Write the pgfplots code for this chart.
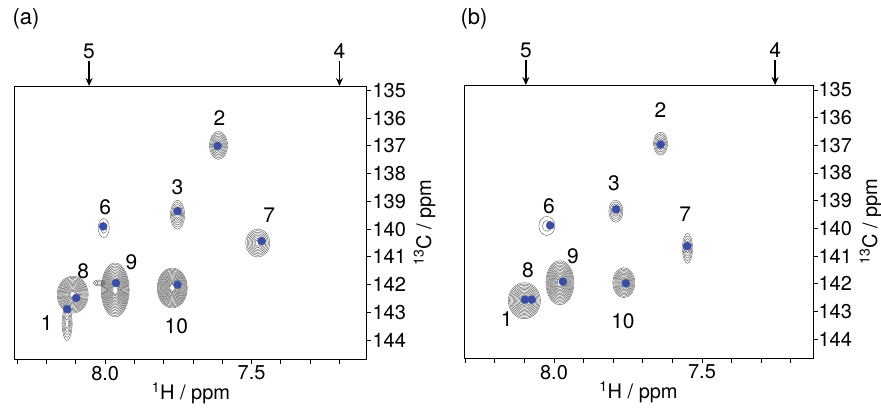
\documentclass[border=0pt]{standalone}
\usepackage{fontspec}
\setmainfont{TeX Gyre Heros}
\usepackage{pgfplots}
\pgfplotsset{compat=1.18}
\usepackage{pgfplotstable}
\usetikzlibrary{arrows.meta}
\definecolor{peakblue}{RGB}{58,78,165}
\definecolor{contourgray}{RGB}{70,70,70}

% contour envelopes: centre (x,y), semi-axes a,b (bp), number of levels n
\pgfplotstableread{
x y a b n
7.613 136.98 9 14 8
7.753 139.48 7 14.5 6
8.005 139.96 5.5 9.5 2
7.479 140.50 12 14 8
7.966 142.19 14 27 16
8.020 141.94 6 3 3
7.771 142.12 15 20 16
8.111 142.36 15.5 18.5 14
8.130 143.40 5 17 5
}\contA
\pgfplotstableread{
x y
7.616 137.00
7.753 139.35
8.007 139.90
7.466 140.43
7.963 141.94
7.753 142.00
8.099 142.48
8.130 142.88
}\dotsA
\pgfplotstableread{
x y a b n
7.640 136.94 7 11.5 6
7.791 139.38 7 11 5
8.024 139.91 8 9.5 2
7.549 140.72 5 15 5
7.980 141.96 14 22 14
7.764 141.96 11 15 10
8.100 142.61 16 18 12
}\contB
\pgfplotstableread{
x y
7.640 136.97
7.790 139.31
8.013 139.89
7.550 140.64
7.970 141.92
7.757 141.98
8.098 142.57
8.075 142.57
}\dotsB

\newcommand{\labfont}{\fontsize{20bp}{23bp}\selectfont}
\newcommand{\pkfont}{\fontsize{21bp}{24bp}\selectfont}

\tikzset{pkarrow/.style={{Stealth[length=8bp,width=7bp]}-, line width=1.4bp}}

\pgfplotsset{
  nmr/.style={
    scale only axis, clip=false,
    x dir=reverse, y dir=reverse,
    axis line style={line width=1bp},
    xtick pos=left, ytick pos=right, yticklabel pos=right,
    tick align=outside,
    major tick length=4.5bp, minor tick length=4.5bp,
    every tick/.style={black, line width=0.9bp},
    xtick={7.5,8.0}, xticklabels={7.5,8.0},
    minor xtick={7.2,7.3,7.4,7.6,7.7,7.8,7.9,8.1,8.2,8.3},
    ytick={135,136,137,138,139,140,141,142,143,144},
    /pgf/number format/assume math mode=true,
    tick label style={font=\labfont},
    yticklabel style={xshift=-2.5bp},
    xticklabel style={yshift=1bp},
    label style={font=\labfont},
    xlabel={\textsuperscript{1}H / ppm},
    ylabel={\textsuperscript{13}C / ppm},
    xlabel style={yshift=5bp},
    ylabel style={yshift=-1bp},
  },
  contlevel/.style={
    scatter, only marks, mark=o, mark size=1bp,
    mark options={draw=contourgray, line width=0.35bp},
    visualization depends on={(0.12+0.88*min(#1,\thisrow{n})/\thisrow{n})*\thisrow{a} \as \ea},
    visualization depends on={(0.12+0.88*min(#1,\thisrow{n})/\thisrow{n})*\thisrow{b} \as \eb},
    visualization depends on={(#1 < \thisrow{n}+0.5) \as \op},
    scatter/@pre marker code/.code={\scope[xscale=\ea, yscale=\eb, draw opacity=\op]},
    scatter/@post marker code/.code={\endscope},
  },
  dots/.style={only marks, mark=*, mark size=4bp, peakblue, mark options={draw=peakblue, fill=peakblue}},
}

\begin{document}
\begin{tikzpicture}
\useasboundingbox (0,0) rectangle (881bp,414bp);
\node[font=\fontsize{22bp}{25bp}\selectfont] at (26bp,395bp) {(a)};
\node[font=\fontsize{22bp}{25bp}\selectfont] at (474bp,395bp) {(b)};

\begin{axis}[nmr, at={(15bp,55bp)}, anchor=south west,
  width=352bp, height=273bp,
  xmin=7.106, xmax=8.308, ymin=134.84, ymax=144.68]
  \pgfplotsinvokeforeach{1,...,16}{\addplot[contlevel=#1] table {\contA};}
  \addplot[dots] table {\dotsA};
  \draw[pkarrow] (axis cs:8.055,134.84) -- (axis cs:8.055,133.95) node[above, font=\pkfont, inner sep=2bp] {5};
  \draw[pkarrow] (axis cs:7.200,134.84) -- (axis cs:7.200,133.95) node[above, font=\pkfont, inner sep=2bp] {4};
  \node[font=\pkfont] at (axis cs:7.610,136.00) {2};
  \node[font=\pkfont] at (axis cs:7.753,138.50) {3};
  \node[font=\pkfont] at (axis cs:8.000,139.20) {6};
  \node[font=\pkfont] at (axis cs:7.440,139.50) {7};
  \node[font=\pkfont] at (axis cs:7.910,141.20) {9};
  \node[font=\pkfont] at (axis cs:8.075,141.50) {8};
  \node[font=\pkfont] at (axis cs:8.200,143.40) {1};
  \node[font=\pkfont] at (axis cs:7.757,143.50) {10};
\end{axis}

\begin{axis}[nmr, at={(464bp,56bp)}, anchor=south west,
  width=349bp, height=273bp,
  xmin=7.125, xmax=8.304, ymin=134.82, ymax=144.68]
  \pgfplotsinvokeforeach{1,...,16}{\addplot[contlevel=#1] table {\contB};}
  \addplot[dots] table {\dotsB};
  \draw[pkarrow] (axis cs:8.095,134.82) -- (axis cs:8.095,133.93) node[above, font=\pkfont, inner sep=2bp] {5};
  \draw[pkarrow] (axis cs:7.253,134.82) -- (axis cs:7.253,133.93) node[above, font=\pkfont, inner sep=2bp] {4};
  \node[font=\pkfont] at (axis cs:7.640,135.72) {2};
  \node[font=\pkfont] at (axis cs:7.797,138.36) {3};
  \node[font=\pkfont] at (axis cs:8.017,139.20) {6};
  \node[font=\pkfont] at (axis cs:7.557,139.50) {7};
  \node[font=\pkfont] at (axis cs:7.936,141.00) {9};
  \node[font=\pkfont] at (axis cs:8.088,141.50) {8};
  \node[font=\pkfont] at (axis cs:8.160,143.27) {1};
  \node[font=\pkfont] at (axis cs:7.767,143.35) {10};
\end{axis}
\end{tikzpicture}
\end{document}
